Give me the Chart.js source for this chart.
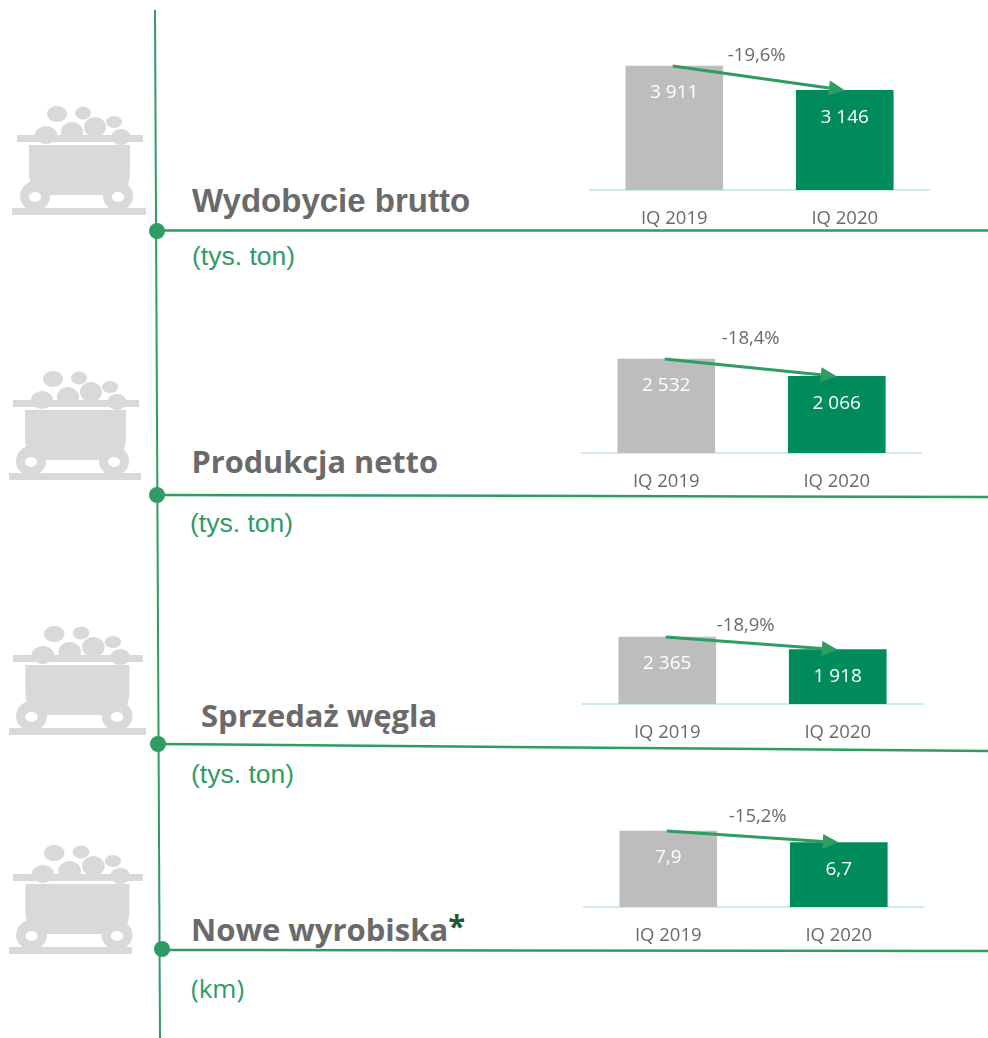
<!DOCTYPE html>
<html lang="pl">
<head>
<meta charset="utf-8">
<title>Wydobycie, produkcja, sprzedaż</title>
<script src="https://cdn.jsdelivr.net/npm/chart.js@4"></script>
<style>
html, body { margin:0; padding:0; background:#ffffff; }
#page { position:relative; width:988px; height:1038px; overflow:hidden; }
#page svg { position:absolute; left:0; top:0; }
#page canvas { position:absolute; }
.title { position:absolute; font-weight:bold; color:#6a6a6a; white-space:nowrap; line-height:1; }
.unit { position:absolute; color:#2e9c63; white-space:nowrap; line-height:1; }
</style>
</head>
<body>
<div id="page">
<svg width="988" height="1038" xmlns="http://www.w3.org/2000/svg">
    <defs>
        <g id="cart" fill="#d9d9d9">
            <ellipse cx="57" cy="114" rx="10" ry="8"/>
            <ellipse cx="83" cy="113" rx="8" ry="6.5"/>
            <ellipse cx="114" cy="122" rx="8" ry="6"/>
            <ellipse cx="46" cy="135" rx="11" ry="9"/>
            <ellipse cx="72" cy="132" rx="11" ry="10"/>
            <ellipse cx="95" cy="127" rx="11" ry="10"/>
            <ellipse cx="121" cy="137" rx="9.5" ry="8"/>
            <rect x="17" y="135" width="126" height="7"/>
            <path d="M29 145 H130 V172 Q130 195 110 195 H49 Q29 195 29 172 Z"/>
            <circle cx="35" cy="196" r="15"/>
            <circle cx="118" cy="196" r="15"/>
            <ellipse cx="35" cy="197" rx="6" ry="5" fill="#ffffff"/>
            <ellipse cx="118" cy="197" rx="6" ry="5" fill="#ffffff"/>
        </g>
    </defs>
    <use href="#cart"/>
    <use href="#cart" transform="translate(-4,265)"/>
    <use href="#cart" transform="translate(-4.5,520) scale(1.03,1)"/>
    <use href="#cart" transform="translate(-4.5,739) scale(1.03,1)"/>

    <g fill="#d9d9d9">
        <rect x="12" y="208" width="134" height="7"/>
        <rect x="9" y="473" width="132" height="7"/>
        <rect x="9" y="728" width="137" height="7"/>
        <rect x="9" y="947" width="123" height="7"/>
    </g>

    <g stroke="#2e9c63" fill="none">
        <line x1="155" y1="10" x2="160" y2="1038" stroke-width="2"/>
        <line x1="156" y1="230.5" x2="988" y2="230.5" stroke-width="2.5"/>
        <line x1="156" y1="495" x2="988" y2="497" stroke-width="2.5"/>
        <line x1="158" y1="744" x2="988" y2="751" stroke-width="2.5"/>
        <line x1="162" y1="950" x2="988" y2="951" stroke-width="2.5"/>
    </g>
    <g fill="#2e9c63">
        <circle cx="157" cy="231" r="8"/>
        <circle cx="157" cy="495" r="8"/>
        <circle cx="158" cy="744" r="8"/>
        <circle cx="162" cy="949" r="8"/>
    </g>
</svg>

<div class="title" style="left:192px;top:184px;font-family:'Liberation Sans';font-size:33px;">Wydobycie brutto</div>
<div class="unit" style="left:192px;top:243px;font-family:'Liberation Sans';font-size:26.5px;">(tys. ton)</div>
<div class="title" style="left:191.5px;top:446px;font-family:'Open Sans';font-size:30.7px;">Produkcja netto</div>
<div class="unit" style="left:190px;top:510px;font-family:'Liberation Sans';font-size:26.5px;">(tys. ton)</div>
<div class="title" style="left:201px;top:700px;font-family:'Open Sans';font-size:31px;">Sprzedaż węgla</div>
<div class="unit" style="left:191px;top:761px;font-family:'Liberation Sans';font-size:26.5px;">(tys. ton)</div>
<div class="title" style="left:191px;top:914px;font-family:'Open Sans';font-size:31px;">Nowe wyrobiska<span style="color:#1c5a3e;position:relative;top:-4px;">*</span></div>
<div class="unit" style="left:191px;top:975px;font-family:'Open Sans';font-size:26px;">(km)</div>
</div>

<script>

const categories = ["IQ 2019", "IQ 2020"];

const grossOutput = [3911, 3146];
const netProduction = [2532, 2066];
const coalSales = [2365, 1918];
const newWorkings = [7.9, 6.7];

const grossLabels = ["3 911", "3 146"];
const netLabels = ["2 532", "2 066"];
const salesLabels = ["2 365", "1 918"];
const workingsLabels = ["7,9", "6,7"];

const grossChange = "-19,6%";
const netChange = "-18,4%";
const salesChange = "-18,9%";
const workingsChange = "-15,2%";

const GREY = "#bdbdbd";
const GREEN = "#008c5a";
const ARROW = "#2e9c63";
const TEXT = "#6a6a6a";
const FONT = "'Open Sans'";

const AREA_HEIGHT = 150;
const AXIS_HEIGHT = 40;

// draws the value labels, the arrow between bar tops and the change label
const barDecor = {
    id:"barDecor",
    afterDatasetsDraw(chart, args, opts){

        const ctx = chart.ctx;
        const bars = chart.getDatasetMeta(0).data;

        ctx.save();
        ctx.textAlign = "center";
        ctx.textBaseline = "middle";
        ctx.font = "19px " + FONT;
        ctx.fillStyle = "#ffffff";

        bars.forEach((bar, i) => {
            ctx.fillText(opts.labels[i], bar.x, bar.y + 27);
        });

        const x1 = bars[0].x - 1.5;
        const y1 = bars[0].y;
        const x2 = bars[1].x;
        const y2 = bars[1].y;
        const angle = Math.atan2(y2 - y1, x2 - x1);
        const headLen = 16;
        const headHalf = 7.5;
        const baseX = x2 - headLen * Math.cos(angle);
        const baseY = y2 - headLen * Math.sin(angle);

        ctx.strokeStyle = ARROW;
        ctx.lineWidth = 3;
        ctx.beginPath();
        ctx.moveTo(x1, y1);
        ctx.lineTo(baseX, baseY);
        ctx.stroke();

        ctx.fillStyle = ARROW;
        ctx.beginPath();
        ctx.moveTo(x2, y2);
        ctx.lineTo(baseX + headHalf * Math.sin(angle), baseY - headHalf * Math.cos(angle));
        ctx.lineTo(baseX - headHalf * Math.sin(angle), baseY + headHalf * Math.cos(angle));
        ctx.closePath();
        ctx.fill();

        ctx.fillStyle = TEXT;
        ctx.font = "18.5px " + FONT;
        ctx.fillText(opts.change, (x1 + x2) / 2 + opts.changeDx, y1 + opts.changeDy);

        ctx.restore();
    }
};

function createChart(left, baseline, yMax, values, labels, change, changeDx, changeDy){

    const canvas = document.createElement("canvas");
    canvas.width = 341;
    canvas.height = AREA_HEIGHT + AXIS_HEIGHT;
    canvas.style.left = left + "px";
    canvas.style.top = (baseline - AREA_HEIGHT) + "px";
    document.getElementById("page").appendChild(canvas);

    new Chart(canvas.getContext("2d"),{
        type:"bar",
        data:{
            labels:categories,
            datasets:[{
                data:values,
                backgroundColor:[GREY, GREEN],
                borderWidth:0,
                barThickness:97
            }]
        },
        plugins:[barDecor],
        options:{
            responsive:false,
            animation:false,
            layout:{padding:0},
            plugins:{
                legend:{display:false},
                tooltip:{enabled:false},
                barDecor:{labels:labels, change:change, changeDx:changeDx, changeDy:changeDy}
            },
            scales:{
                x:{
                    afterFit(scale){ scale.height = AXIS_HEIGHT; },
                    grid:{display:false},
                    border:{color:"#cdeee0", width:2},
                    ticks:{
                        color:TEXT,
                        padding:10,
                        font:{family:"Open Sans", size:18.5}
                    }
                },
                y:{
                    display:false,
                    min:0,
                    max:yMax
                }
            }
        }
    });
}

createChart(589, 190, 4731, grossOutput, grossLabels, grossChange, -2, -10.5);
createChart(581, 453, 4040, netProduction, netLabels, netChange, 0, -20.5);
createChart(582, 704, 5295, coalSales, salesLabels, salesChange, -6, -11.5);
createChart(583, 907, 15.6, newWorkings, workingsLabels, workingsChange, 5, -14.5);

</script>
</body>
</html>
